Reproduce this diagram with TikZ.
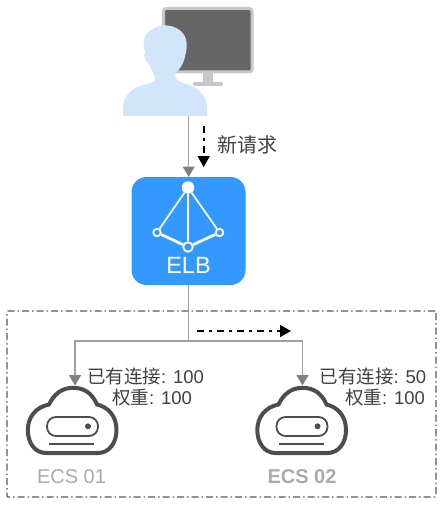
\documentclass[tikz,border=0pt]{standalone}
\usepackage{fontspec}
\setmainfont{Liberation Sans}
\newfontfamily\cjk{Noto Sans CJK SC}
\usetikzlibrary{arrows.meta}
\definecolor{linegray}{HTML}{A0A0A0}
\definecolor{tipgray}{HTML}{808080}
\definecolor{personblue}{HTML}{D1E5FB}
\definecolor{elbblue}{HTML}{3399FF}
\definecolor{cloudgray}{HTML}{4D4D4D}
\definecolor{labelgray}{HTML}{AAAAAA}
\definecolor{textgray}{HTML}{404040}
\tikzset{
  conn/.style={draw=linegray,line width=1.2pt,-{Triangle[length=10.5pt,width=12pt,fill=tipgray,color=tipgray]}},
  plainconn/.style={draw=linegray,line width=1.2pt},
  flow/.style={draw=black,line width=1.7pt,dash pattern=on 7pt off 5pt on 2.5pt off 5.5pt,-{Triangle[length=11pt,width=12pt,fill=black]}},
  region/.style={draw=black!65,line width=1.1pt,dash pattern=on 7pt off 3pt on 1.5pt off 3pt,rounded corners=1pt},
  holder/.style={inner sep=0pt,outer sep=0pt,minimum width=#1},
  info/.style={font=\fontsize{18.5}{22}\selectfont,text=textgray,inner sep=0pt},
  hostlabel/.style={font=\fontsize{20}{24}\selectfont,text=labelgray,inner sep=0pt},
  hub/.style={circle,draw=white,fill=elbblue,line width=1.8pt,minimum size=8pt,inner sep=0pt},
  spoke/.style={draw=white,line width=1.7pt},
  pics/cloudicon/.style={code={
    \draw[cloudgray,line width=4pt,line join=round]
      (46,453) -- (98,453)
      .. controls (109,453) and (116.5,443) .. (116.5,430)
      .. controls (116.5,416) and (108,407) .. (97,404.5)
      .. controls (92,393) and (84,387.8) .. (73,387.8)
      .. controls (62,387.8) and (54,394) .. (49,404.5)
      .. controls (36,407) and (27.8,417) .. (27.8,430)
      .. controls (27.8,443) and (35,453) .. (46,453) -- cycle;
    \draw[cloudgray,line width=1.8pt,rounded corners=9pt] (47,417) rectangle (98,436);
    \fill[cloudgray] (88,426.3) circle (3pt);
    \draw[cloudgray,line width=1.8pt] (49,444) -- (94,444);
  }}
}
\begin{document}
\begin{tikzpicture}[x=1pt,y=-1pt]
\useasboundingbox (0,0) rectangle (443,508);
% monitor
\fill[black!22] (203,72) rectangle (213,83);
\fill[black!22,rounded corners=1.5pt] (193,82) rectangle (223,86);
\draw[black!22,fill=black!60,line width=3pt,rounded corners=2.5pt] (163.5,8.5) rectangle (252,72);
% person
\fill[personblue]
  (123,116) -- (123,108)
  .. controls (123,97) and (131,88) .. (143,85)
  .. controls (150,83.5) and (155,82) .. (155,79)
  .. controls (155,74) and (151,69) .. (148,63)
  .. controls (145,60) and (143,57) .. (145,52)
  .. controls (142,42) and (144,33) .. (152,30)
  .. controls (158,24) and (170,24) .. (178,29)
  .. controls (186,34) and (188,42) .. (186,52)
  .. controls (184,62) and (182,68) .. (175,73)
  .. controls (175,78) and (176,81) .. (186,84)
  .. controls (198,87) and (207,96) .. (207,108)
  -- (207,116) -- cycle;
\node[holder=84pt,minimum height=1pt] (user) at (165,115.5) {};
% ELB
\node[fill=elbblue,rounded corners=15pt,minimum width=114pt,minimum height=108pt,inner sep=0pt] (elb) at (188.5,231) {};
\node[hub,minimum size=7.5pt] (hl) at (157,232.5) {};
\node[hub,minimum size=7.5pt] (hr) at (219.5,232.5) {};
\node[hub,minimum size=9.5pt] (hb) at (188,247) {};
\node[circle,fill=white,minimum size=12.5pt,inner sep=0pt] (ht) at (188,187.5) {};
\draw[spoke] (ht) -- (hl);
\draw[spoke] (ht) -- (hr);
\draw[spoke] (ht) -- (hb);
\draw[spoke,line width=2.8pt] (hl) -- (hb);
\draw[spoke,line width=2.8pt] (hr) -- (hb);
\node[font=\fontsize{23.5}{26}\selectfont,text=white,inner sep=0pt] (elbtext) at (188.5,265) {ELB};
% region
\node[region,minimum width=429pt,minimum height=186pt,inner sep=0pt] (zone) at (221.5,404) {};
% clouds
\pic at (0,0) {cloudicon};
\pic at (229.5,0) {cloudicon};
\node[holder=1pt,minimum height=1pt] (c1) at (75,386) {};
\node[holder=1pt,minimum height=1pt] (c2) at (302.5,386) {};
% connectors
\coordinate (uel) at (188.7,116);
\coordinate (eltop) at (188.7,177);
\draw[conn] (uel) -- (eltop);
\coordinate (fa) at (203.7,126);
\coordinate (fb) at (203.7,167);
\draw[flow] (fa) -- (fb);
\coordinate (junction) at (elb.south |- 0,341);
\draw[plainconn] (elb.south) -- (junction);
\draw[conn,line width=1.1pt] (junction) -| (c1.north);
\draw[conn,line width=1.1pt] (junction) -| (c2.north);
\coordinate (fc) at (197,331);
\coordinate (fd) at (291,331);
\draw[flow] (fc) -- (fd);
% text
\node[font=\cjk\fontsize{20}{22}\selectfont,text=textgray,inner sep=0pt] (newreq) at (247.5,145) {新请求};
\node[info] (a1) at (145.5,376) {{\cjk 已有连接}: 100};
\node[info] (b1) at (152,398) {{\cjk 权重}: 100};
\node[info] (a2) at (373,376) {{\cjk 已有连接}: 50};
\node[info] (b2) at (385,398) {{\cjk 权重}: 100};
\node[hostlabel] (l1) at (71.5,477) {ECS 01};
\node[hostlabel,font=\fontsize{20}{24}\selectfont\bfseries] (l2) at (302,477) {ECS 02};
\end{tikzpicture}
\end{document}
